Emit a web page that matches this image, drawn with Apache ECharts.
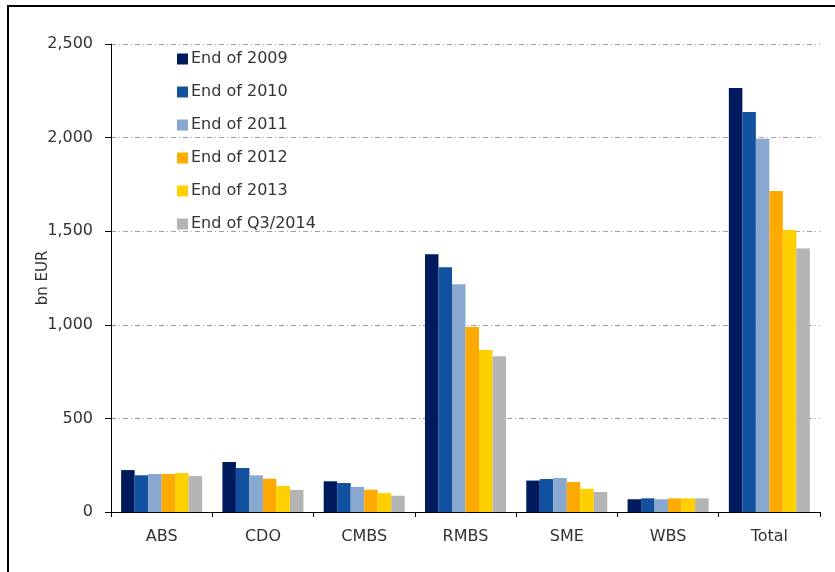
<!DOCTYPE html>
<html>
<head>
<meta charset="utf-8">
<script src="https://cdn.jsdelivr.net/npm/echarts@6/dist/echarts.min.js"></script>
<style>
  html, body { margin: 0; padding: 0; background: #ffffff; }
  #frame {
    position: absolute;
    left: 7px;
    top: 5px;
    width: 828px;
    height: 567px;
    border-left: 2px solid #000;
    border-top: 2px solid #000;
    box-sizing: border-box;
  }
  #chart { position: absolute; left: 0; top: 0; width: 835px; height: 572px; }
</style>
</head>
<body>
<div id="frame"></div>
<div id="chart"></div>
<script>
// bn EUR outstanding
const categories = ['ABS', 'CDO', 'CMBS', 'RMBS', 'SME', 'WBS', 'Total']
const seriesNames = ['End of 2009', 'End of 2010', 'End of 2011', 'End of 2012', 'End of 2013', 'End of Q3/2014']
const end2009 = [224, 267, 164, 1377, 168, 68, 2265]
const end2010 = [196, 235, 155, 1307, 176, 73, 2137]
const end2011 = [203, 196, 134, 1216, 182, 68, 1994]
const end2012 = [203, 178, 119, 988, 160, 73, 1715]
const end2013 = [208, 139, 101, 865, 124, 73, 1506]
const endQ32014 = [192, 118, 87, 832, 107, 73, 1407]
const yTicks = [0, 500, 1000, 1500, 2000, 2500]

const colors = ['#001a5e', '#1250a0', '#88a8d0', '#ffaa00', '#ffd000', '#b4b4b4']
const values = [end2009, end2010, end2011, end2012, end2013, endQ32014]
const font = 'DejaVu Sans'

let chart = echarts.init(document.getElementById('chart'))
let option = {
  animation: false,
  textStyle: { fontFamily: font },
  grid: { left: 111, right: 15, top: 44, bottom: 60, containLabel: false },
  legend: {
    orient: 'vertical',
    left: 177,
    top: 51,
    padding: 0,
    itemWidth: 11,
    itemHeight: 11,
    itemGap: 17,
    icon: 'rect',
    textStyle: { fontSize: 16, color: '#333', fontFamily: font, padding: [0, 0, 0, -2] },
    data: seriesNames
  },
  xAxis: {
    type: 'category',
    data: categories,
    axisLine: { lineStyle: { color: '#000', width: 1 } },
    axisTick: { show: true, length: 5, lineStyle: { color: '#000' } },
    axisLabel: { fontSize: 16, color: '#333', margin: 17 }
  },
  yAxis: {
    type: 'value',
    min: 0,
    max: 2500,
    interval: 500,
    name: 'bn EUR',
    nameLocation: 'middle',
    nameGap: 60,
    nameMoveOverlap: false,
    nameTextStyle: { fontSize: 15, color: '#333' },
    axisLine: { show: true, lineStyle: { color: '#000', width: 1 } },
    axisTick: { show: true, length: 6, lineStyle: { color: '#000' } },
    axisLabel: {
      fontSize: 16,
      color: '#333',
      margin: 18,
      formatter: function (v) { return yTicks.indexOf(v) >= 0 ? v.toLocaleString('en-US') : '' }
    },
    splitLine: { show: true, lineStyle: { color: '#a0a0a0', width: 1, type: [5, 3, 1, 3] } }
  },
  series: seriesNames.map(function (name, i) {
    return {
      name: name,
      type: 'bar',
      data: values[i],
      barGap: '0%',
      barCategoryGap: '20%',
      itemStyle: { color: colors[i] }
    }
  })
}
chart.setOption(option)
</script>
</body>
</html>
